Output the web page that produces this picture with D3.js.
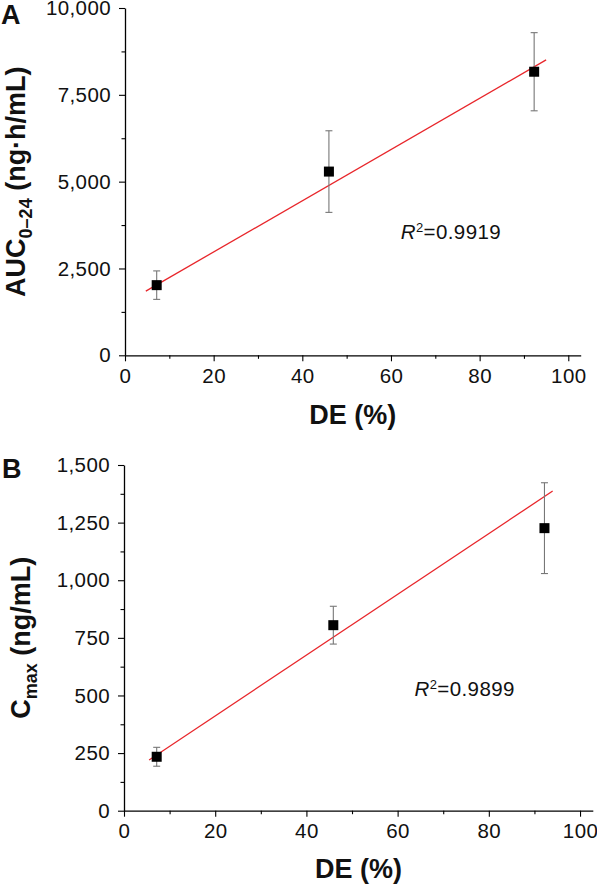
<!DOCTYPE html>
<html>
<head>
<meta charset="utf-8">
<script src="https://cdn.jsdelivr.net/npm/d3@7"></script>
<style>
  html, body { margin: 0; padding: 0; background: #fff; }
  svg { display: block; font-family: "Liberation Sans", Arial, Helvetica, sans-serif; }
</style>
</head>
<body>
<svg id="chart" width="597" height="884"></svg>
<script>
// ---------- data ----------
const deA = [7.15, 46.0, 92.3];
const aucMean = [2020, 5290, 8165];
const aucErr = [410, 1175, 1125];
const fitAX = [4.7, 95.0];
const fitAY = [1848, 8506];
const r2A = "0.9919";

const deB = [7.17, 45.9, 92.2];
const cmaxMean = [234, 805, 1226];
const cmaxErr = [41, 82, 197];
const fitBX = [5.5, 94.0];
const fitBY = [220, 1387];
const r2B = "0.9899";

const xMajorTicks = [0, 20, 40, 60, 80, 100];
const xMinorTicks = [10, 30, 50, 70, 90];
const yTicksA = [0, 2500, 5000, 7500, 10000];
const yMinorA = [1250, 3750, 6250, 8750];
const yTicksB = [0, 250, 500, 750, 1000, 1250, 1500];
const yMinorB = [125, 375, 625, 875, 1125, 1375];

// ---------- drawing ----------
const svg = d3.select("#chart");

function panel(cfg) {
  const g = svg.append("g");
  const x = d3.scaleLinear().domain([0, 102.8]).range([cfg.x0, cfg.x1]);
  const y = d3.scaleLinear().domain(cfg.yDomain).range([cfg.y0, cfg.y1]);

  // x axis
  g.append("g").attr("transform", `translate(0,${cfg.y0})`)
    .call(d3.axisBottom(x).tickValues(xMajorTicks).tickSize(6).tickPadding(7).tickSizeOuter(0));
  g.append("g").attr("transform", `translate(0,${cfg.y0})`)
    .call(d3.axisBottom(x).tickValues(xMinorTicks).tickSize(3.5).tickFormat("").tickSizeOuter(0))
    .select(".domain").remove();
  // y axis
  g.append("g").attr("transform", `translate(${cfg.x0},0)`)
    .call(d3.axisLeft(y).tickValues(cfg.yTicks).tickFormat(d3.format(",")).tickSize(6).tickPadding(8).tickSizeOuter(0));
  g.append("g").attr("transform", `translate(${cfg.x0},0)`)
    .call(d3.axisLeft(y).tickValues(cfg.yMinor).tickSize(3.5).tickFormat("").tickSizeOuter(0))
    .select(".domain").remove();

  g.selectAll(".domain").attr("stroke", "#000").attr("stroke-width", 1.3);
  g.selectAll(".tick line").attr("stroke", "#000").attr("stroke-width", 1.1);
  g.selectAll(".tick text").attr("font-size", 20.5).attr("fill", "#111")
    .attr("letter-spacing", 0.4)
    .attr("font-family", "'Liberation Sans', Arial, sans-serif");

  // fit line
  g.append("line")
    .attr("x1", x(cfg.fitX[0])).attr("y1", y(cfg.fitY[0]))
    .attr("x2", x(cfg.fitX[1])).attr("y2", y(cfg.fitY[1]))
    .attr("stroke", "#e8262b").attr("stroke-width", 1.3);

  // error bars
  const pts = cfg.xs.map((d, i) => ({ x: d, m: cfg.means[i], e: cfg.errs[i] }));
  const eb = g.append("g").attr("stroke", "#777").attr("stroke-width", 1.1);
  eb.selectAll(".v").data(pts).join("line")
    .attr("x1", d => x(d.x)).attr("x2", d => x(d.x))
    .attr("y1", d => y(d.m - d.e)).attr("y2", d => y(d.m + d.e));
  eb.selectAll(".t").data(pts).join("line")
    .attr("x1", d => x(d.x) - 3.5).attr("x2", d => x(d.x) + 3.5)
    .attr("y1", d => y(d.m + d.e)).attr("y2", d => y(d.m + d.e));
  eb.selectAll(".b").data(pts).join("line")
    .attr("x1", d => x(d.x) - 3.5).attr("x2", d => x(d.x) + 3.5)
    .attr("y1", d => y(d.m - d.e)).attr("y2", d => y(d.m - d.e));

  // markers
  g.selectAll("rect.pt").data(pts).join("rect")
    .attr("x", d => x(d.x) - 5).attr("y", d => y(d.m) - 5)
    .attr("width", 10).attr("height", 10).attr("fill", "#000");

  // R^2 annotation
  const t = g.append("text")
    .attr("x", x(cfg.r2Pos[0])).attr("y", y(cfg.r2Pos[1]))
    .attr("font-size", 20.5).attr("letter-spacing", 0.4).attr("fill", "#111");
  t.append("tspan").attr("font-style", "italic").text("R");
  t.append("tspan").attr("font-size", 13).attr("dy", -7).text("2");
  t.append("tspan").attr("dy", 7).text("=" + cfg.r2);

  // x label
  g.append("text")
    .attr("x", (cfg.x0 + cfg.x1) / 2).attr("y", cfg.xLabelY)
    .attr("text-anchor", "middle").attr("font-size", 27).attr("font-weight", "bold")
    .attr("fill", "#111").text("DE (%)");

  // y label
  const yl = g.append("text")
    .attr("transform", `translate(${cfg.yLabelX},${(cfg.y0 + cfg.y1) / 2}) rotate(-90)`)
    .attr("text-anchor", "middle").attr("font-size", 27).attr("font-weight", "bold").attr("fill", "#111");
  yl.append("tspan").text(cfg.yMain);
  yl.append("tspan").attr("font-size", 18).attr("dy", 7).text(cfg.ySub);
  yl.append("tspan").attr("dy", -7).text(" " + cfg.yUnit);

  // panel letter
  g.append("text").attr("x", cfg.letterX).attr("y", cfg.letterY)
    .attr("font-size", 27).attr("font-weight", "bold").attr("fill", "#111").text(cfg.letter);
}

panel({
  x0: 125, x1: 580.7, y0: 355.3, y1: 8, yDomain: [0, 10000],
  yTicks: yTicksA, yMinor: yMinorA,
  xs: deA, means: aucMean, errs: aucErr, fitX: fitAX, fitY: fitAY,
  r2: r2A, r2Pos: [62.2, 3340],
  xLabelY: 424, yLabelX: 25, yMain: "AUC", ySub: "0–24", yUnit: "(ng·h/mL)",
  letter: "A", letterX: 1, letterY: 24
});

panel({
  x0: 124, x1: 592.8, y0: 810.7, y1: 465, yDomain: [0, 1500],
  yTicks: yTicksB, yMinor: yMinorB,
  xs: deB, means: cmaxMean, errs: cmaxErr, fitX: fitBX, fitY: fitBY,
  r2: r2B, r2Pos: [63.7, 499],
  xLabelY: 878, yLabelX: 30, yMain: "C", ySub: "max", yUnit: "(ng/mL)",
  letter: "B", letterX: 2, letterY: 478
});
</script>
</body>
</html>
